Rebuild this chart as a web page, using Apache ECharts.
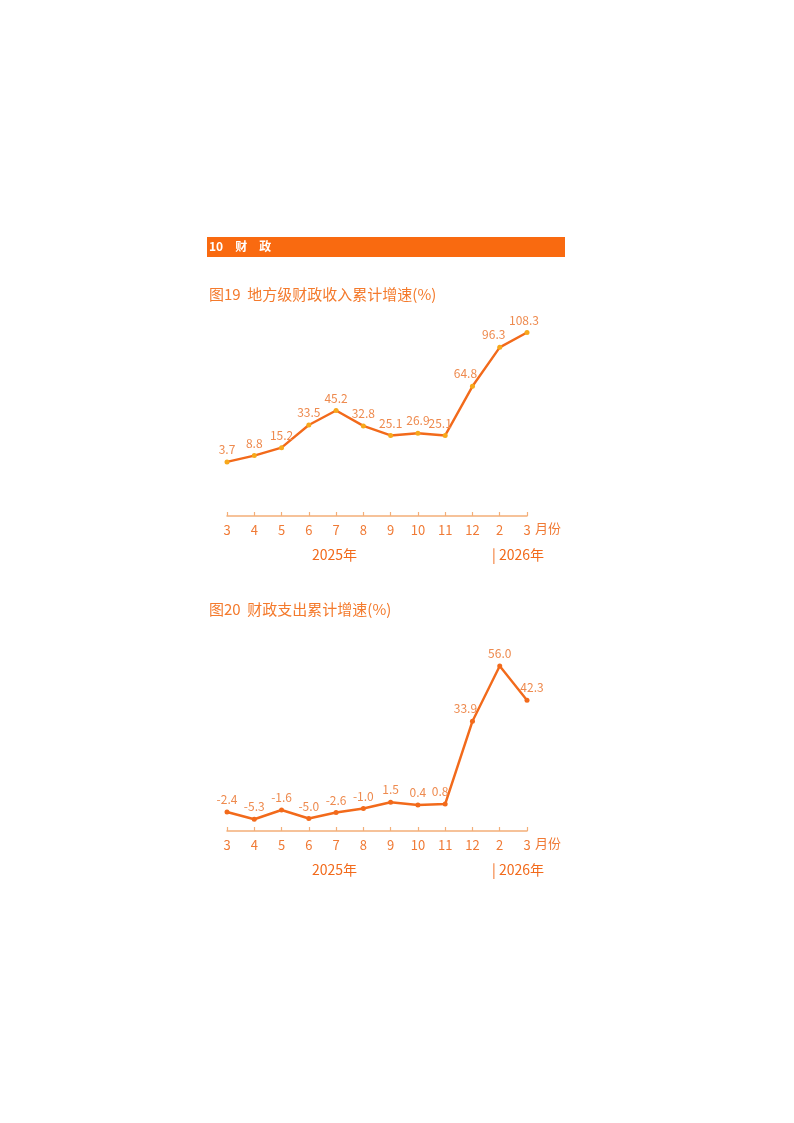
<!DOCTYPE html>
<html style="height: 100%">
<head>
  <meta charset="UTF-8">
  <title>财政</title>
  <script src="https://cdn.jsdelivr.net/npm/echarts/dist/echarts.min.js"></script>
</head>
<body style="height: 100%; margin: 0; background: #fff">
<div id="main" style="width: 794px; height: 1123px"></div>

<script>
  // month ticks, last two belong to 2026
  const monthLabels = ['3', '4', '5', '6', '7', '8', '9', '10', '11', '12', '2', '3'];
  const periods = ['2025-03', '2025-04', '2025-05', '2025-06', '2025-07', '2025-08', '2025-09',
    '2025-10', '2025-11', '2025-12', '2026-02', '2026-03'];
  // 图19 地方级财政收入累计增速(%)
  const revenueGrowth = [3.7, 8.8, 15.2, 33.5, 45.2, 32.8, 25.1, 26.9, 25.1, 64.8, 96.3, 108.3];
  // 图20 财政支出累计增速(%)
  const expenditureGrowth = [-2.4, -5.3, -1.6, -5.0, -2.6, -1.0, 1.5, 0.4, 0.8, 33.9, 56.0, 42.3];

  const font = '"Noto Sans CJK SC", "Noto Sans", sans-serif';
  const orange = '#F26A1B';
  const labelColor = '#EE8A4E';
  const axisColor = '#F3AE78';

  // nudge labels off the steep segments, like the original
  const revenueLabelShift = {8: [-5, 0], 9: [-7, 0], 10: [-6, 0], 11: [-3, 0]};
  const expenditureLabelShift = {8: [-5, 0], 9: [-7, 0], 11: [5, 0]};

  function xAxis(gridIndex) {
    return {
      type: 'category',
      gridIndex: gridIndex,
      data: periods,
      boundaryGap: false,
      axisLine: {onZero: false, lineStyle: {color: axisColor, width: 1.5}},
      axisTick: {inside: true, length: 4, lineStyle: {color: axisColor, width: 1.2}},
      axisLabel: {
        margin: 8,
        color: '#F07A35',
        fontSize: 13,
        fontFamily: font,
        interval: 0,
        formatter: (v, i) => monthLabels[i]
      },
      splitLine: {show: false}
    };
  }

  function yAxis(gridIndex, min, max) {
    return {
      type: 'value',
      gridIndex: gridIndex,
      min: min,
      max: max,
      show: false,
      splitLine: {show: false}
    };
  }

  function lineSeries(idx, data, dotColor, shifts) {
    return {
      type: 'line',
      xAxisIndex: idx,
      yAxisIndex: idx,
      data: data.map((v, i) => shifts[i] ? {value: v, label: {offset: shifts[i]}} : v),
      symbol: 'circle',
      symbolSize: 5,
      lineStyle: {color: orange, width: 2.4},
      itemStyle: {color: dotColor},
      label: {
        show: true,
        position: 'top',
        distance: 4,
        color: labelColor,
        fontSize: 12,
        fontFamily: font,
        formatter: p => p.value.toFixed(1)
      },
      animation: false
    };
  }

  function yearTexts(y) {
    return [
      {type: 'text', left: 312, top: y, style: {text: '2025年', fill: '#F26A1B', font: '14px ' + font}},
      {type: 'text', left: 492, top: y, style: {text: '| 2026年', fill: '#F26A1B', font: '14px ' + font}}
    ];
  }

  const option = {
    backgroundColor: '#fff',
    grid: [
      {left: 227, right: 267, top: 318, height: 198},
      {left: 227, right: 267, top: 656, height: 175}
    ],
    xAxis: [xAxis(0), xAxis(1)],
    yAxis: [yAxis(0, -40, 120), yAxis(1, -10, 60)],
    series: [
      lineSeries(0, revenueGrowth, '#F7A81B', revenueLabelShift),
      lineSeries(1, expenditureGrowth, orange, expenditureLabelShift)
    ],
    graphic: [
      {type: 'rect', left: 207, top: 237, shape: {width: 358, height: 20}, style: {fill: '#F96A10'}},
      {type: 'text', left: 209, top: 240, style: {text: '10　财　政', fill: '#fff', font: 'bold 12px ' + font}},
      {type: 'text', left: 209, top: 287, style: {text: '图19  地方级财政收入累计增速(%)', fill: '#F47A2C', font: '15px ' + font}},
      {type: 'text', left: 209, top: 602, style: {text: '图20  财政支出累计增速(%)', fill: '#F47A2C', font: '15px ' + font}},
      {type: 'text', left: 535, top: 522, style: {text: '月份', fill: '#F07A35', font: '13px ' + font}},
      {type: 'text', left: 535, top: 837, style: {text: '月份', fill: '#F07A35', font: '13px ' + font}}
    ].concat(yearTexts(548), yearTexts(863))
  };

  let chart = echarts.init(document.getElementById('main'));
  chart.setOption(option);
</script>
</body>
</html>
